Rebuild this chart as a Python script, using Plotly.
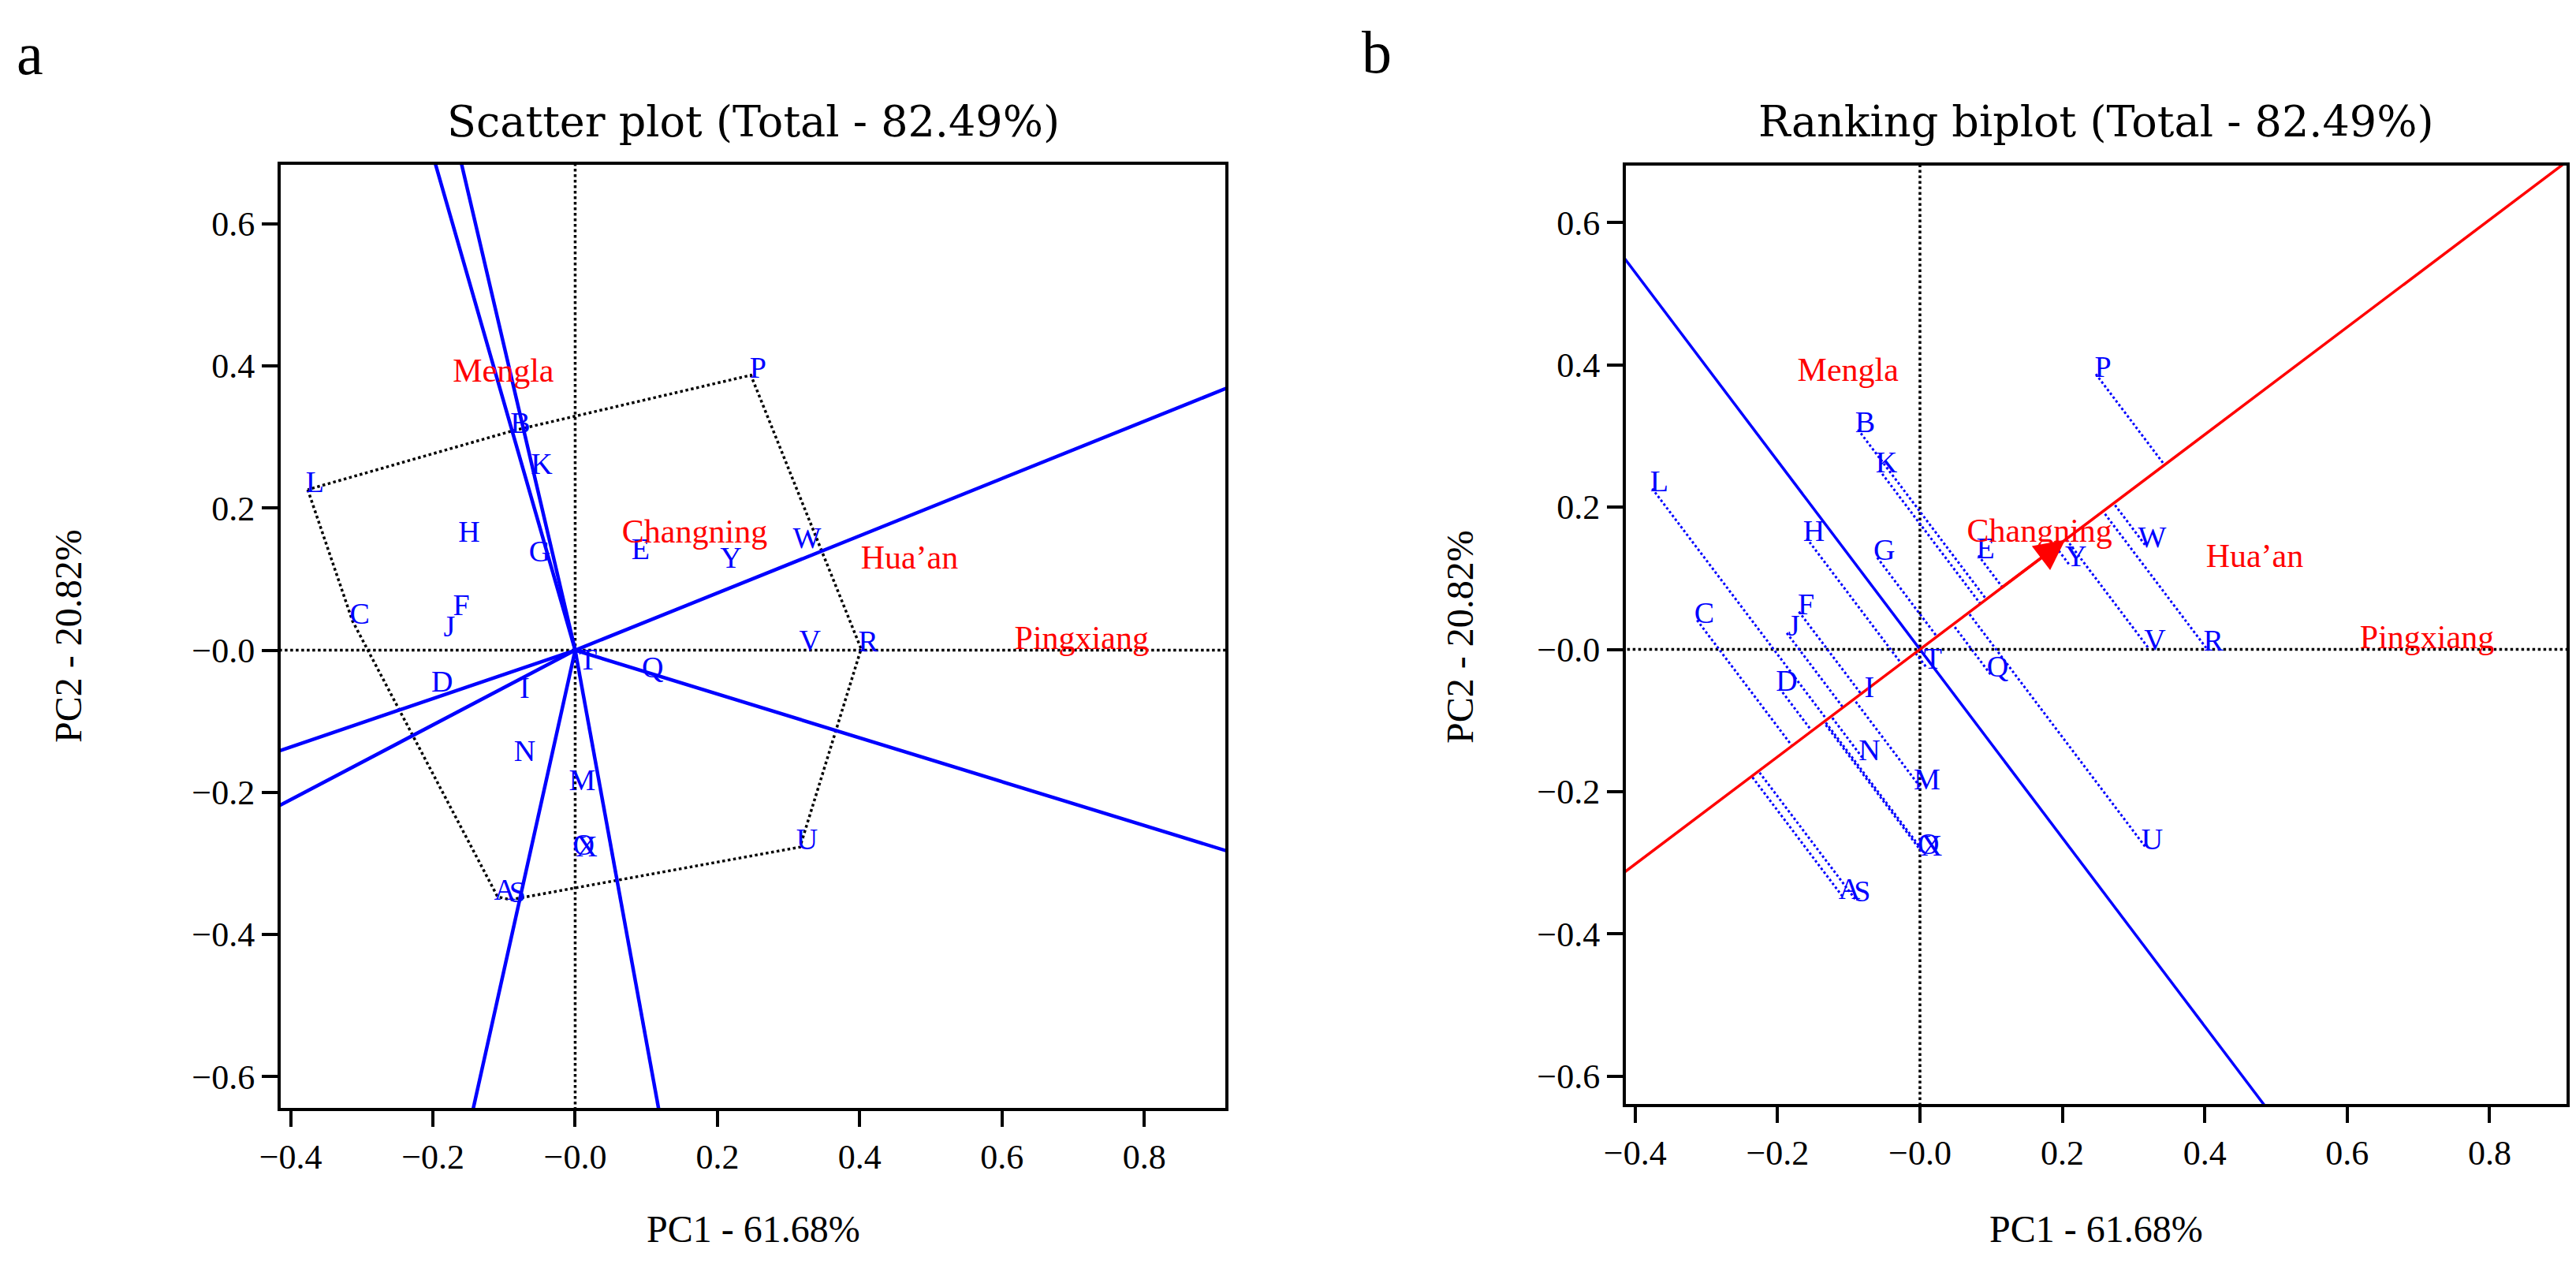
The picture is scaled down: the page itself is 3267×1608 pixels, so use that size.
import math
import plotly.graph_objects as go

# ---------------- data ----------------
genotypes = list("ABCDEFGHIJKLMNOPQRSTUVWXY")
pc1 = [-0.109, -0.087, -0.313, -0.197, 0.082, -0.170, -0.060, -0.159, -0.081, -0.187,
       -0.057, -0.376, 0.000, -0.081, 0.002, 0.247, 0.099, 0.402, -0.091, 0.008,
       0.316, 0.320, 0.316, 0.006, 0.209]
pc2 = [-0.347, 0.309, 0.041, -0.055, 0.132, 0.053, 0.129, 0.156, -0.063, 0.023,
       0.252, 0.226, -0.193, -0.152, -0.284, 0.387, -0.035, 0.002, -0.351, -0.024,
       -0.277, 0.003, 0.147, -0.286, 0.120]
environments = ["Mengla", "Changning", "Hua\u2019an", "Pingxiang"]
env_pc1 = [-0.101, 0.168, 0.470, 0.712]
env_pc2 = [0.389, 0.163, 0.127, 0.013]
aec = (0.204, 0.154)  # average environment coordinate

x_ticks = [-0.4, -0.2, 0.0, 0.2, 0.4, 0.6, 0.8]
x_ticktext = ["\u22120.4", "\u22120.2", "\u22120.0", "0.2", "0.4", "0.6", "0.8"]
y_ticks = [-0.6, -0.4, -0.2, 0.0, 0.2, 0.4, 0.6]
y_ticktext = ["\u22120.6", "\u22120.4", "\u22120.2", "\u22120.0", "0.2", "0.4", "0.6"]

titles = ["Scatter plot (Total - 82.49%)", "Ranking biplot (Total - 82.49%)"]
x_title = "PC1 - 61.68%"
y_title = "PC2 - 20.82%"

# ---------------- style ----------------
BLUE = "#0000FF"
RED = "#FF0000"
SERIF = "Liberation Serif, serif"
LBL_DX, LBL_DY = 0.010, 0.007
W, H = 3267, 1608


def convex_hull(pts):
    pts = sorted(set(pts))
    def cross(o, a, b):
        return (a[0]-o[0])*(b[1]-o[1]) - (a[1]-o[1])*(b[0]-o[0])
    lower, upper = [], []
    for p in pts:
        while len(lower) >= 2 and cross(lower[-2], lower[-1], p) <= 0:
            lower.pop()
        lower.append(p)
    for p in reversed(pts):
        while len(upper) >= 2 and cross(upper[-2], upper[-1], p) <= 0:
            upper.pop()
        upper.append(p)
    return lower[:-1] + upper[:-1]  # CCW


fig = go.Figure()

# ---------- panel a : which-won-where polygon ----------
xa, ya = "x", "y"
big = 3.0
fig.add_trace(go.Scatter(x=[-big, big], y=[0, 0], mode="lines", xaxis=xa, yaxis=ya,
                         line=dict(color="black", width=3.5, dash="dot"), hoverinfo="skip"))
fig.add_trace(go.Scatter(x=[0, 0], y=[-big, big], mode="lines", xaxis=xa, yaxis=ya,
                         line=dict(color="black", width=3.5, dash="dot"), hoverinfo="skip"))

hull = convex_hull(list(zip(pc1, pc2)))
hx = [p[0] for p in hull] + [hull[0][0]]
hy = [p[1] for p in hull] + [hull[0][1]]
fig.add_trace(go.Scatter(x=hx, y=hy, mode="lines", xaxis=xa, yaxis=ya,
                         line=dict(color="black", width=3.5, dash="dot"), hoverinfo="skip"))

rx, ry = [], []
for i in range(len(hull)):
    x1, y1 = hull[i]
    x2, y2 = hull[(i + 1) % len(hull)]
    dx, dy = x2 - x1, y2 - y1
    nx, ny = dy, -dx
    n = math.hypot(nx, ny)
    rx += [0, nx / n * big, None]
    ry += [0, ny / n * big, None]
fig.add_trace(go.Scatter(x=rx, y=ry, mode="lines", xaxis=xa, yaxis=ya,
                         line=dict(color=BLUE, width=4.5), hoverinfo="skip"))

# ---------- panel b : ranking biplot ----------
xb, yb = "x2", "y2"
fig.add_trace(go.Scatter(x=[-big, big], y=[0, 0], mode="lines", xaxis=xb, yaxis=yb,
                         line=dict(color="black", width=3.5, dash="dot"), hoverinfo="skip"))
fig.add_trace(go.Scatter(x=[0, 0], y=[-big, big], mode="lines", xaxis=xb, yaxis=yb,
                         line=dict(color="black", width=3.5, dash="dot"), hoverinfo="skip"))

al = math.hypot(*aec)
ux, uy = aec[0] / al, aec[1] / al
px, py = [], []
for gx, gy in zip(pc1, pc2):
    d = gx * ux + gy * uy
    px += [gx, d * ux, None]
    py += [gy, d * uy, None]
fig.add_trace(go.Scatter(x=px, y=py, mode="lines", xaxis=xb, yaxis=yb,
                         line=dict(color=BLUE, width=3, dash="dot"), hoverinfo="skip"))
fig.add_trace(go.Scatter(x=[-uy * big, uy * big], y=[ux * big, -ux * big], mode="lines",
                         xaxis=xb, yaxis=yb, line=dict(color=BLUE, width=3.5), hoverinfo="skip"))
fig.add_trace(go.Scatter(x=[-ux * big, ux * big], y=[-uy * big, uy * big], mode="lines",
                         xaxis=xb, yaxis=yb, line=dict(color=RED, width=3.5), hoverinfo="skip"))

for (xx, yy) in [(xa, ya), (xb, yb)]:
    fig.add_trace(go.Scatter(x=[v + LBL_DX for v in pc1], y=[v + LBL_DY for v in pc2],
                             text=genotypes, mode="text", textposition="middle center",
                             xaxis=xx, yaxis=yy,
                             textfont=dict(family=SERIF, size=38, color=BLUE), hoverinfo="skip"))
    fig.add_trace(go.Scatter(x=env_pc1, y=env_pc2, text=environments, mode="text",
                             textposition="middle center", xaxis=xx, yaxis=yy,
                             textfont=dict(family=SERIF, size=42, color=RED), hoverinfo="skip"))

fig.add_annotation(x=aec[0], y=aec[1], ax=aec[0] * 0.55, ay=aec[1] * 0.55,
                   xref="x2", yref="y2", axref="x2", ayref="y2", text="",
                   showarrow=True, arrowhead=2, arrowsize=2.2, arrowwidth=3.5,
                   arrowcolor=RED, standoff=0)

# ---------------- axes ----------------
axis_common = dict(showgrid=False, zeroline=False, showline=True, linecolor="black",
                   linewidth=4, mirror=True, ticks="outside", ticklen=20, tickwidth=4,
                   tickcolor="black", automargin=False,
                   tickfont=dict(family=SERIF, size=44, color="black"))

fig.update_layout(
    width=W, height=H, margin=dict(l=0, r=0, t=0, b=0, autoexpand=False),
    paper_bgcolor="white", plot_bgcolor="white", showlegend=False,
    font=dict(family=SERIF),
    xaxis=dict(domain=[348 / W, 1546 / W], range=[-0.414, 0.914], anchor="y",
               tickvals=x_ticks, ticktext=x_ticktext, **axis_common),
    yaxis=dict(domain=[1 - 1397 / H, 1 - 201 / H], range=[-0.644, 0.683], anchor="x",
               tickvals=y_ticks, ticktext=y_ticktext, **axis_common),
    xaxis2=dict(domain=[2054 / W, 3247 / W], range=[-0.413, 0.908], anchor="y2",
                tickvals=x_ticks, ticktext=x_ticktext, **axis_common),
    yaxis2=dict(domain=[1 - 1392 / H, 1 - 202 / H], range=[-0.639, 0.680], anchor="x2",
                tickvals=y_ticks, ticktext=y_ticktext, **axis_common),
)

centers = [(348 + 1546) / 2 / W, (2054 + 3247) / 2 / W]
ylab_x = [79 / W, 1844 / W]
ann = dict(xref="paper", yref="paper", showarrow=False, xanchor="center", yanchor="middle")
for i in range(2):
    fig.add_annotation(x=centers[i], y=1 - 146 / H, text=titles[i],
                       font=dict(family="DejaVu Serif", size=54, color="black"), **ann)
    fig.add_annotation(x=centers[i], y=1 - 1550 / H, text=x_title,
                       font=dict(family=SERIF, size=48, color="black"), **ann)
    fig.add_annotation(x=ylab_x[i], y=1 - 799 / H, text=y_title, textangle=-90,
                       font=dict(family=SERIF, size=48, color="black"), **ann)
fig.add_annotation(x=30 / W, y=1 - 60 / H, text="a",
                   font=dict(family=SERIF, size=76, color="black"), **ann)
fig.add_annotation(x=1738 / W, y=1 - 58 / H, text="b",
                   font=dict(family=SERIF, size=76, color="black"), **ann)

fig.write_html("out.html")
